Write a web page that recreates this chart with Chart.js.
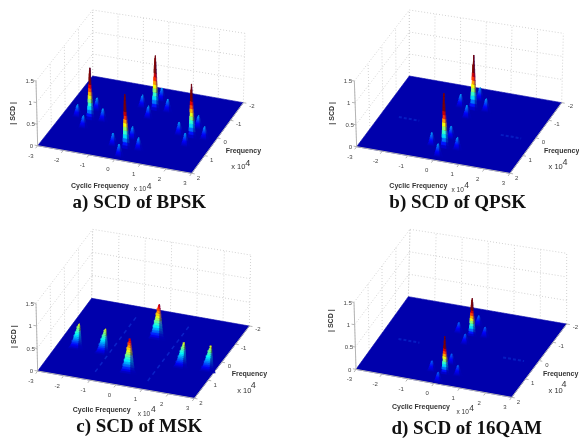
<!DOCTYPE html>
<html>
<head>
<meta charset="utf-8">
<script src="https://cdn.jsdelivr.net/npm/chart.js@4"></script>
<style>
html,body{margin:0;padding:0;background:#fff;overflow:hidden}
#wrap{position:relative;width:579px;height:441px}
canvas{position:absolute;filter:blur(.7px)}
</style>
</head>
<body>
<div id="wrap"></div>
<script>
// axis ticks
const alphaTicks = [-3,-2,-1,0,1,2,3]
const freqTicks = [-2,-1,0,1,2]
const zTicks = [0,0.5,1,1.5]
const zLabels = ['0','0.5','1','1.5']

// main peaks (cyclic freq, freq, height)
const bpskAlpha = [0.12,-1.88,2.12,0.12]
const bpskFreq = [-0.83,0.22,0.22,1.35]
const bpskHeight = [1.22,1.18,1.18,1.22]

const qpskAlpha = [0.12,0.11]
const qpskFreq = [-0.86,1.31]
const qpskHeight = [1.22,1.22]
const qpskFaintAlpha = [-1.9,2.1]
const qpskFaintFreq = [0.15,0.15]

const mskAlpha = [0.24,0.13]
const mskFreq = [-0.7,1.2]
const mskHeight = [0.7,0.7]
const mskSideAlpha = [-2.25,-1.23,1.77,2.76]
const mskSideFreq = [0.36,0.39,0.4,0.34]
const mskSideHeight = [0.46,0.46,0.46,0.46]
const mskRidgeAlpha = [-1.03,0.98]

const qamAlpha = [0.12,0.16]
const qamFreq = [-0.63,1.45]
const qamHeight = [0.82,0.82]
const qamFaintAlpha = [-1.9,2.1]
const qamFaintFreq = [0.15,0.15]

// side lobes around every main peak
const lobeAlpha = [-0.5,0.5,0,0]
const lobeFreq = [0,0,-0.5,0.5]

// peak outline, fraction of height vs fraction of half width
const levelFrac = [0,0.06,0.12,0.19,0.26,0.33,0.4,0.47,0.54,0.61,0.68,0.75,0.82,0.89,0.95,1]
const widthFrac = [1,0.86,0.74,0.66,0.6,0.54,0.49,0.44,0.39,0.34,0.29,0.25,0.2,0.15,0.1,0.03]

const jetStops = [[0,0,0,172],[0.11,0,0,255],[0.36,0,255,255],[0.5,120,255,135],[0.63,255,255,0],[0.87,255,0,0],[1,128,0,0]]
const floorColor = '#0000ac'

// where each plot sits, in crop coordinates (3 units = 1 px)
const panels = [
  {left:0,top:0,w:290,h:220,
   floor:[[113,437],[575,520],[730,308],[278,228]],tops:[[108,243],[278,30],[735,100]],
   caption:'a) SCD of BPSK',capX:418,capY:608,
   cyc:[300,557],cycExp:[420,569],cyc4:[447,560],fr:[730,453],frExp:[715,502],fr4:[743,490],scd:[38,340]},
  {left:290,top:0,w:289,h:220,
   floor:[[200,440],[660,520],[815,308],[358,228]],tops:[[193,243],[358,30],[820,100]],
   caption:'b) SCD of QPSK',capX:503,capY:608,
   cyc:[385,558],cycExp:[503,572],cyc4:[530,558],fr:[815,453],frExp:[797,502],fr4:[825,487],scd:[125,340]},
  {left:0,top:220,w:290,h:221,
   floor:[[113,453],[583,535],[748,318],[275,235]],tops:[[108,250],[278,28],[752,105]],
   caption:'c) SCD of MSK',capX:418,capY:621,
   cyc:[305,569],cycExp:[432,583],cyc4:[460,570],fr:[748,463],frExp:[733,512],fr4:[760,497],scd:[42,350]},
  {left:290,top:220,w:289,h:221,
   floor:[[198,448],[665,532],[830,312],[355,230]],tops:[[192,247],[360,28],[830,100]],
   caption:'d) SCD of 16QAM',capX:530,capY:628,
   cyc:[393,561],cycExp:[518,577],cyc4:[545,565],fr:[812,461],frExp:[797,512],fr4:[822,495],scd:[122,302]}
]

function lerp(a,b,t){ return a+(b-a)*t }

function project(p,alpha,freq,z){
    let u = (alpha+3)/6, v = (2-freq)/4, t = z/1.5
    let [fl,fr,br,bl] = p.floor
    let [tfl,tbl,tbr] = p.tops
    let tfr = [tfl[0]+tbr[0]-tbl[0],tfl[1]+tbr[1]-tbl[1]]
    let out = [0,1].map(k=>{
        let bottom = lerp(lerp(fl[k],fr[k],u),lerp(bl[k],br[k],u),v)
        let top = lerp(lerp(tfl[k],tfr[k],u),lerp(tbl[k],tbr[k],u),v)
        return lerp(bottom,top,t)
    })
    return {x:out[0],y:out[1]}
}

function jet(v,dim){
    v = Math.min(1,v)
    let i = 0
    while(i<jetStops.length-2 && v>jetStops[i+1][0]) i++
    let a = jetStops[i], b = jetStops[i+1]
    let t = (v-a[0])/(b[0]-a[0])
    let c = [1,2,3].map(k=>lerp(a[k],b[k],t))
    if(dim){
        // shaded flank of the peak, fades into the floor blue
        c = [c[0]*0.55, c[1]*0.4, lerp(c[2],172,0.85)*(c[0]>100?0.5:1)]
    }
    return 'rgb('+c.map(Math.round).join(',')+')'
}

function polygon(points,color){
    return {data:points,showLine:true,fill:'shape',backgroundColor:color,borderColor:color,borderWidth:0.6,pointRadius:0}
}

function line(points,color,width,dash){
    return {data:points,showLine:true,fill:false,borderColor:color,borderWidth:width,borderDash:dash||[],pointRadius:0}
}

function peakBands(p,peak){
    let out = []
    for(let i=0;i<levelFrac.length-1;i++){
        let z0 = levelFrac[i]*peak.h, z1 = levelFrac[i+1]*peak.h
        let w0 = widthFrac[i]*peak.w, w1 = widthFrac[i+1]*peak.w
        let f0 = peak.f+peak.lean*(1-levelFrac[i]), f1 = peak.f+peak.lean*(1-levelFrac[i+1])
        let v = (z0+z1)/2/peak.zMax
        out.push(polygon([
            project(p,peak.a,f0,z0),project(p,peak.a+w0,f0,z0),
            project(p,peak.a+w1,f1,z1),project(p,peak.a,f1,z1),project(p,peak.a,f0,z0)
        ],jet(v,true)))
        out.push(polygon([
            project(p,peak.a-w0,f0,z0),project(p,peak.a+w0*0.25,f0,z0),
            project(p,peak.a+w1*0.25,f1,z1),project(p,peak.a-w1,f1,z1),project(p,peak.a-w0,f0,z0)
        ],jet(v,false)))
    }
    return out
}

function withLobes(alphas,freqs,heights,lobeH,zMax){
    let peaks = []
    alphas.forEach((a,i)=>{
        peaks.push({a:a,f:freqs[i],h:heights[i],w:0.16,lean:0,zMax:zMax})
        lobeAlpha.forEach((da,k)=>{
            peaks.push({a:a+da,f:freqs[i]+lobeFreq[k],h:lobeH,w:0.22,lean:0,zMax:1.1})
        })
    })
    return peaks
}

let bpskPeaks = withLobes(bpskAlpha,bpskFreq,bpskHeight,0.3,0.85)
let qpskPeaks = withLobes(qpskAlpha,qpskFreq,qpskHeight,0.3,0.85)
let mskPeaks = mskAlpha.map((a,i)=>({a:a,f:mskFreq[i],h:mskHeight[i],w:0.32,lean:0.15,zMax:0.75}))
    .concat(mskSideAlpha.map((a,i)=>({a:a,f:mskSideFreq[i],h:mskSideHeight[i],w:0.3,lean:0.25,zMax:0.75})))
let qamPeaks = withLobes(qamAlpha,qamFreq,qamHeight,0.24,0.58)
let allPeaks = [bpskPeaks,qpskPeaks,mskPeaks,qamPeaks]
let faintStreaks = [null,[qpskFaintAlpha,qpskFaintFreq],null,[qamFaintAlpha,qamFaintFreq]]

function buildDatasets(p,index){
    let back = []
    // dotted walls
    let grid = '#d2d2d2'
    freqTicks.forEach(f=>back.push(line([project(p,-3,f,0),project(p,-3,f,1.5)],grid,1,[1,2])))
    alphaTicks.forEach(a=>back.push(line([project(p,a,-2,0),project(p,a,-2,1.5)],grid,1,[1,2])))
    zTicks.forEach(z=>{
        back.push(line([project(p,-3,2,z),project(p,-3,-2,z)],grid,1,[1,2]))
        back.push(line([project(p,-3,-2,z),project(p,3,-2,z)],grid,1,[1,2]))
    })
    back.push(polygon([project(p,-3,2,0),project(p,3,2,0),project(p,3,-2,0),project(p,-3,-2,0),project(p,-3,2,0)],floorColor))

    // axis lines and tick marks
    let axisColor = '#b4b4b4'
    back.push(line([project(p,-3,2,0),project(p,3,2,0),project(p,3,-2,0)],axisColor,1))
    back.push(line([project(p,-3,2,0),project(p,-3,2,1.5)],axisColor,1))
    alphaTicks.forEach(a=>back.push(line([project(p,a,2,0),project(p,a,2.15,0)],axisColor,1)))
    freqTicks.forEach(f=>back.push(line([project(p,3,f,0),project(p,3.12,f,0)],axisColor,1)))
    zTicks.forEach(z=>back.push(line([project(p,-3,2,z),project(p,-3.12,2,z)],axisColor,1)))

    if(index===2){
        // thin ridges that show on the MSK floor
        mskRidgeAlpha.forEach(a=>back.push(line([project(p,a,1.55,0),project(p,a,-1.6,0)],'#0a22c8',1.5,[4,4])))
    }
    if(faintStreaks[index]){
        let [as,fs] = faintStreaks[index]
        as.forEach((a,i)=>back.push(line([project(p,a-0.4,fs[i],0),project(p,a+0.4,fs[i],0)],'#061cc2',2,[3,2])))
    }

    let peaks = allPeaks[index].slice().sort((a,b)=>a.f-b.f)
    peaks.forEach(pk=>{ back = back.concat(peakBands(p,pk)) })
    // chart.js paints the first dataset last
    return back.reverse()
}

const textPlugin = {
    id:'textPlugin',
    afterDraw(chart){
        let p = chart.options.plugins.textPlugin.panel
        let ctx = chart.ctx
        let sx = chart.scales.x, sy = chart.scales.y
        function put(text,at,font,color,rot){
            ctx.save()
            ctx.translate(sx.getPixelForValue(at[0]),sy.getPixelForValue(at[1]))
            if(rot) ctx.rotate(rot)
            ctx.font = font
            ctx.fillStyle = color
            ctx.textAlign = 'center'
            ctx.textBaseline = 'middle'
            ctx.fillText(text,0,0)
            ctx.restore()
        }
        let small = '6px "Liberation Sans"'
        let ink = '#444'
        alphaTicks.forEach(a=>{
            let q = project(p,a,2,0)
            put(String(a),[q.x-20,q.y+31],small,ink)
        })
        freqTicks.forEach(f=>{
            let q = project(p,3,f,0)
            put(String(f),[q.x+20+(2-f)*1.5,q.y+16-(2-f)*1.5],small,ink)
        })
        zTicks.forEach((z,i)=>{
            let q = project(p,-3,2,z)
            put(zLabels[i],[q.x-19,q.y+2],small,ink)
        })
        let label = 'bold 7px "Liberation Sans"'
        put('Cyclic Frequency',p.cyc,label,'#333')
        put('x 10',p.cycExp,'6.5px "Liberation Sans"','#333')
        put('4',p.cyc4,'8.5px "Liberation Sans"','#333')
        put('Frequency',p.fr,label,'#333')
        put('x 10',p.frExp,'7.5px "Liberation Sans"','#333')
        put('4',p.fr4,'9px "Liberation Sans"','#333')
        put('| SCD |',p.scd,label,'#333',-Math.PI/2)
        put(p.caption,[p.capX,p.capY],'bold 19px "Liberation Serif"','#111')
    }
}

panels.forEach((p,i)=>{
    let c = document.createElement('canvas')
    c.width = p.w
    c.height = p.h
    c.style.left = p.left+'px'
    c.style.top = p.top+'px'
    document.getElementById('wrap').appendChild(c)
    new Chart(c,{
        type:'scatter',
        data:{datasets:buildDatasets(p,i)},
        options:{
            responsive:false,
            animation:false,
            layout:{padding:0},
            scales:{
                x:{display:false,min:0,max:p.w*3},
                y:{display:false,min:0,max:p.h*3,reverse:true}
            },
            plugins:{legend:{display:false},tooltip:{enabled:false},textPlugin:{panel:p}}
        },
        plugins:[textPlugin]
    })
})
</script>
</body>
</html>
